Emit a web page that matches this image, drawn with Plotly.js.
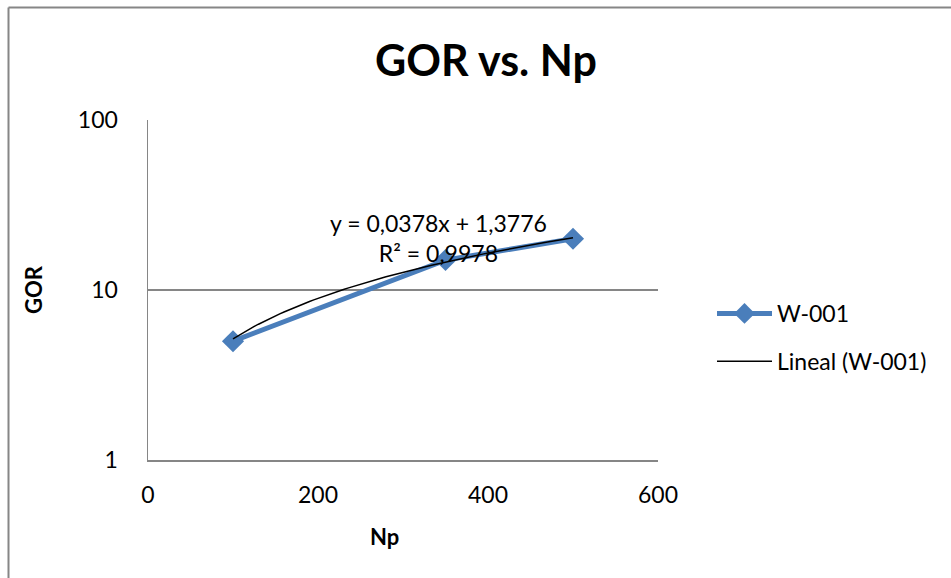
<!DOCTYPE html>
<html>
<head>
<meta charset="utf-8">
<script src="https://cdn.plot.ly/plotly-3.0.1.min.js"></script>
<style>html,body{margin:0;padding:0;background:#fff;}#chart{width:951px;height:578px;}</style>
</head>
<body>
<div id="chart"></div>
<script>
// Data
const npValues = [100, 350, 500];
const gorValues = [5, 15, 20];
const seriesName = "W-001";
const trendName = "Lineal (W-001)";
// Linear trendline coefficients as printed on the chart
const trendSlope = 0.0378;
const trendIntercept = 1.3776;
const trendLabel = "y = 0,0378x + 1,3776<br>R² = 0,9978";
const chartTitle = "GOR vs. Np";
const xTitle = "Np";
const yTitle = "GOR";
const yTickVals = [1, 10, 100];
const yTickText = ["1", "10", "100"];

// Trendline drawn across the data range
const trendX = [];
const trendY = [];
const xMin = Math.min(...npValues), xMax = Math.max(...npValues);
for (let i = 0; i <= 80; i++) {
  const x = xMin + (xMax - xMin) * i / 80;
  trendX.push(x);
  trendY.push(trendSlope * x + trendIntercept);
}

const L = 148, R = 658, T = 120, B = 460, W = 951, H = 578;
const px = v => (v - L) / (R - L);
const py = v => (B - v) / (B - T);

const FONT = "Lato, 'Open Sans', sans-serif";
const FS = 23;
const traces = [
  {
    x: npValues, y: gorValues, name: seriesName, type: "scatter", mode: "lines+markers",
    line: {color: "#4A7EBB", width: 5},
    marker: {symbol: "diamond", size: 17, color: "#4A7EBB"},
    legendgroup: "a"
  },
  {
    x: trendX, y: trendY, name: trendName, type: "scatter", mode: "lines",
    line: {color: "#000000", width: 1.5},
    legendgroup: "b"
  }
];

const layout = {
  width: W, height: H,
  margin: {l: L, r: W - R, t: T, b: H - B, pad: 0},
  paper_bgcolor: "#ffffff", plot_bgcolor: "#ffffff",
  font: {family: FONT, size: FS, color: "#000"},
  showlegend: true,
  legend: {
    x: px(712), y: py(292), xanchor: "left", yanchor: "top",
    font: {family: FONT, size: FS, color: "#000"},
    itemwidth: 55,
    tracegroupgap: 15, traceorder: "grouped", bgcolor: "rgba(0,0,0,0)"
  },
  xaxis: {
    range: [0, 600], dtick: 200, tick0: 0, showgrid: false, zeroline: false,
    showline: true, linecolor: "#868686", linewidth: 1.5, ticks: "",
    ticklabelstandoff: 14, tickfont: {family: FONT, size: FS, color: "#000"}
  },
  yaxis: {
    type: "log", range: [0, 2], tickvals: yTickVals, ticktext: yTickText,
    showgrid: true, gridcolor: "#868686", gridwidth: 1.5, zeroline: false,
    showline: true, linecolor: "#868686", linewidth: 1.5, ticks: "",
    ticklabelstandoff: 24, tickfont: {family: FONT, size: FS, color: "#000"}
  },
  annotations: [
    {text: "<b>" + chartTitle + "</b>", xref: "paper", yref: "paper", x: px(486), y: py(60),
     xanchor: "center", yanchor: "middle", showarrow: false, font: {family: FONT, size: 43, color: "#000"}},
    {text: "<b>" + xTitle + "</b>", xref: "paper", yref: "paper", x: px(384), y: py(536),
     xanchor: "center", yanchor: "middle", showarrow: false, font: {family: FONT, size: 22, color: "#000"}},
    {text: "<b>" + yTitle + "</b>", xref: "paper", yref: "paper", x: px(33), y: py(290),
     xanchor: "center", yanchor: "middle", showarrow: false, textangle: -90, font: {family: FONT, size: 22, color: "#000"}},
    {text: trendLabel, xref: "paper", yref: "paper", x: px(438), y: py(238),
     xanchor: "center", yanchor: "middle", showarrow: false, align: "center", font: {family: FONT, size: FS, color: "#000"}}
  ],
  shapes: [
    {type: "line", xref: "paper", yref: "paper", x0: px(8.5), x1: px(8.5), y0: py(7.5), y1: py(600),
     line: {color: "#868686", width: 2}},
    {type: "line", xref: "paper", yref: "paper", x0: px(8.5), x1: px(960), y0: py(7.5), y1: py(7.5),
     line: {color: "#868686", width: 2}}
  ]
};

Plotly.newPlot("chart", traces, layout, {displayModeBar: false, staticPlot: true});
</script>
</body>
</html>
